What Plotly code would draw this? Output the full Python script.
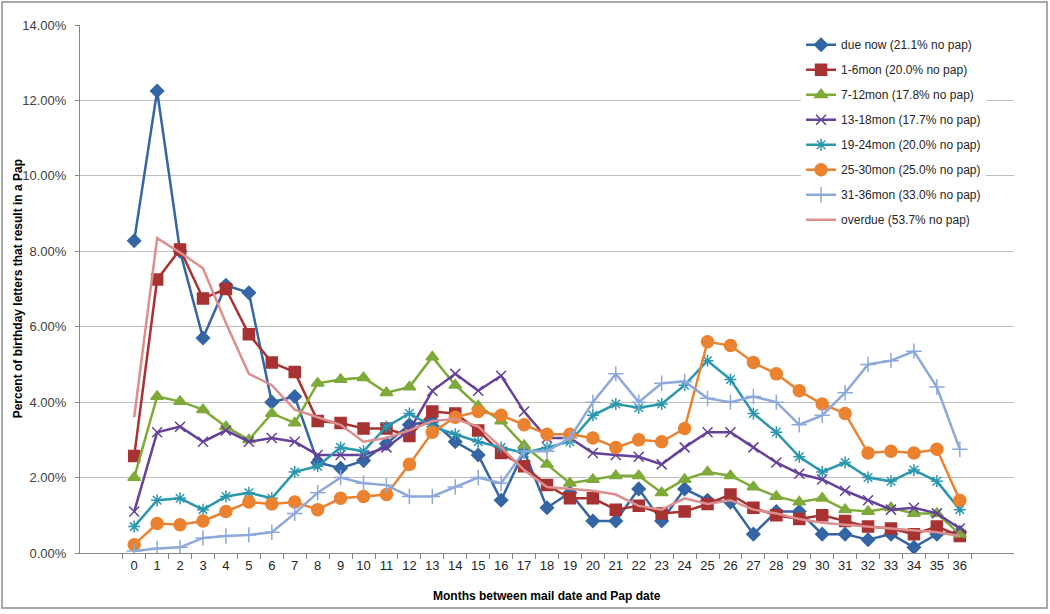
import plotly.graph_objects as go

months = [str(m) for m in range(37)]

due_now = [8.28, 12.25, 8.0, 5.7, 7.1, 6.9, 4.0, 4.15, 2.4, 2.25, 2.45, 2.9, 3.4, 3.5, 2.95, 2.6, 1.4, 2.7, 1.2,
           1.6, 0.85, 0.85, 1.7, 0.85, 1.7, 1.4, 1.35, 0.5, 1.1, 1.1, 0.5, 0.5, 0.35, 0.5, 0.15, 0.5, 0.55]
mon_1_6 = [2.57, 7.25, 8.05, 6.75, 7.0, 5.8, 5.05, 4.8, 3.5, 3.45, 3.3, 3.3, 3.1, 3.75, 3.7, 3.25, 2.65, 2.3, 1.8,
           1.45, 1.45, 1.15, 1.25, 1.05, 1.1, 1.3, 1.55, 1.2, 1.0, 0.9, 1.0, 0.85, 0.7, 0.65, 0.5, 0.7, 0.45]
mon_7_12 = [2.0, 4.15, 4.02, 3.8, 3.35, 3.0, 3.7, 3.45, 4.5, 4.6, 4.65, 4.25, 4.4, 5.2, 4.45, 3.9, 3.5, 2.85, 2.35,
            1.85, 1.95, 2.05, 2.05, 1.6, 1.95, 2.15, 2.05, 1.75, 1.5, 1.35, 1.45, 1.15, 1.1, 1.2, 1.05, 1.05, 0.5]
mon_13_18 = [1.1, 3.2, 3.35, 2.95, 3.25, 2.95, 3.05, 2.95, 2.6, 2.6, 2.6, 2.8, 3.25, 4.3, 4.75, 4.3, 4.7, 3.75, 3.05,
             3.05, 2.65, 2.6, 2.55, 2.35, 2.8, 3.2, 3.2, 2.8, 2.4, 2.1, 1.95, 1.65, 1.4, 1.15, 1.2, 1.05, 0.65]
mon_19_24 = [0.7, 1.4, 1.45, 1.15, 1.5, 1.6, 1.45, 2.15, 2.3, 2.8, 2.7, 3.35, 3.7, 3.35, 3.15, 2.95, 2.8, 2.65, 2.8,
             2.95, 3.65, 3.95, 3.85, 3.95, 4.45, 5.1, 4.6, 3.7, 3.2, 2.55, 2.15, 2.4, 2.0, 1.9, 2.2, 1.9, 1.15]
mon_25_30 = [0.22, 0.78, 0.75, 0.85, 1.1, 1.35, 1.3, 1.35, 1.15, 1.45, 1.5, 1.55, 2.35, 3.2, 3.6, 3.75, 3.65, 3.4, 3.15,
             3.15, 3.05, 2.8, 3.0, 2.95, 3.3, 5.6, 5.5, 5.05, 4.75, 4.3, 3.95, 3.7, 2.65, 2.7, 2.65, 2.75, 1.4]
mon_31_36 = [0.05, 0.12, 0.15, 0.4, 0.45, 0.48, 0.55, 1.05, 1.6, 2.0, 1.85, 1.8, 1.5, 1.5, 1.75, 2.0, 1.85, 2.7, 2.7,
             3.05, 4.0, 4.75, 4.0, 4.5, 4.55, 4.1, 4.0, 4.15, 4.0, 3.4, 3.65, 4.25, 5.0, 5.1, 5.35, 4.4, 2.75]
overdue = [3.6, 8.35, 7.97, 7.55, 6.1, 4.75, 4.45, 3.8, 3.6, 3.4, 2.95, 3.05, 3.25, 3.5, 3.55, 3.35, 2.8, 2.2, 1.75,
           1.7, 1.65, 1.55, 1.25, 1.15, 1.45, 1.3, 1.4, 1.15, 1.05, 0.9, 0.8, 0.75, 0.7, 0.65, 0.6, 0.55, 0.45]

names = ["due now (21.1% no pap)", "1-6mon (20.0% no pap)", "7-12mon (17.8% no pap)", "13-18mon (17.7% no pap)",
         "19-24mon (20.0% no pap)", "25-30mon (25.0% no pap)", "31-36mon (33.0% no pap)", "overdue (53.7% no pap)"]
series = [due_now, mon_1_6, mon_7_12, mon_13_18, mon_19_24, mon_25_30, mon_31_36, overdue]
colors = ["#3465A4", "#A83232", "#7FAA3A", "#65419A", "#2B97AE", "#EB8230", "#8DA9DB", "#DB8F8E"]
symbols = ["diamond", "square", "triangle-up", "x-thin-open", "asterisk-open", "circle", "cross-thin-open", None]
sizes = [10, 11, 11, 10, 10, 12, 11, 0]

x_title = "Months between mail date and Pap date"
y_title = "Percent of birthday letters that result in a Pap"

fig = go.Figure()
for i, (nm, ys, c, s, sz) in enumerate(zip(names, series, colors, symbols, sizes)):
    if s is None:
        mode = "lines"
        marker = None
    else:
        mode = "lines+markers"
        marker = dict(symbol=s, size=sz, color=c, line=dict(color=c, width=1.5))
    fig.add_trace(go.Scatter(x=months, y=ys, name=nm, mode=mode, legendgroup=str(i),
                             line=dict(color=c, width=2.5), marker=marker))

fig.update_layout(
    width=1050, height=614,
    margin=dict(l=80, r=36, t=25, b=61, autoexpand=False),
    paper_bgcolor="white", plot_bgcolor="white",
    font=dict(family="Liberation Sans, Arial, sans-serif", size=13, color="#404040"),
    showlegend=True,
    legend=dict(x=0.772, y=0.99, xanchor="left", yanchor="top", bgcolor="white",
                font=dict(size=12, color="#262626"), tracegroupgap=6),
    xaxis=dict(type="category", tickson="boundaries", ticks="outside", ticklen=5, tickcolor="#868686",
               showline=True, linecolor="#868686", linewidth=1, showgrid=False, tickangle=0,
               automargin=False, tickfont=dict(size=13, color="#262626")),
    yaxis=dict(range=[0, 14], dtick=2, tickformat=".2f", ticksuffix="%", ticks="outside", ticklen=4,
               tickcolor="#868686", showline=True, linecolor="#868686", gridcolor="#BFBFBF", gridwidth=1,
               zeroline=False, ticklabelstandoff=6, automargin=False,
               tickfont=dict(size=13, color="#404040")),
)

fig.add_annotation(text="<b>" + x_title + "</b>", xref="paper", yref="paper", x=0.5, y=-0.065,
                   xanchor="center", yanchor="top", showarrow=False,
                   font=dict(size=12, color="#000000"))
fig.add_annotation(text="<b>" + y_title + "</b>", xref="paper", yref="paper", x=-0.066, y=0.5,
                   xanchor="center", yanchor="middle", showarrow=False, textangle=-90,
                   font=dict(size=12, color="#000000"))

fig.add_shape(type="rect", xref="paper", yref="paper", x0=-0.0835, x1=1.0353, y0=-0.104, y1=1.0436,
              line=dict(color="#8C8C8C", width=1.5), fillcolor="rgba(0,0,0,0)", layer="below")

fig.write_html("out.html", config={"displayModeBar": False},
               post_script="document.body.style.margin='0';document.body.style.overflow='hidden';")
